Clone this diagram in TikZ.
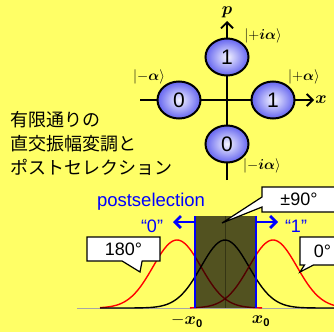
\documentclass[tikz,border=0pt]{standalone}
\usepackage{amsmath,amssymb}
\usepackage{fontspec}
\setmainfont{Liberation Sans}
\newfontfamily\jpfont{Noto Sans CJK JP}
\usepackage{tikz}
\usetikzlibrary{shapes.geometric, shapes.callouts, arrows.meta, positioning}

\definecolor{bgyellow}{RGB}{255,255,102}
\definecolor{ballblue}{RGB}{100,100,240}
\definecolor{ballcenter}{RGB}{245,245,255}

\begin{document}
\begin{tikzpicture}[x=1pt, y=-1pt,
  ball/.style={ellipse, draw=black, line width=2pt, minimum width=43pt, minimum height=37pt,
               inner sep=0, shading=radial, inner color=ballcenter, outer color=ballblue,
               font=\fontsize{21}{21}\selectfont},
  ket/.style={font=\fontsize{15}{15}\selectfont, inner sep=0},
  axis/.style={line width=1.8pt, -{Straight Barb[length=6pt, width=12pt]}},
  bluearr/.style={blue, line width=2.8pt, -{Straight Barb[length=6pt, width=12pt]}},
  callbox/.style={rectangle callout, draw=black, line width=1.2pt, fill=white, inner sep=0,
                  font=\fontsize{18}{18}\selectfont},
  gauss/.style={line width=1.4pt, smooth, samples=90}]
  %% background and frame
  \path[use as bounding box, fill=bgyellow] (0,0) rectangle (334,332);
  \clip (0,0) rectangle (334,332);

  %% Phase space: axes x and p
  \coordinate (xs) at (140,100); \coordinate (xe) at (314,100);
  \coordinate (ps) at (227,180); \coordinate (pe) at (227,21);
  \draw[axis] (xs) -- (xe);
  \draw[axis] (ps) -- (pe);
  \node[font=\fontsize{16}{16}\selectfont] (xlab) at (321,100) {$\boldsymbol{x}$};
  \node[font=\fontsize{16}{16}\selectfont] (plab) at (227,12) {$\boldsymbol{p}$};

  %% the four coherent states
  \foreach \dg/\px/\py/\nm in {1/227/57/top, 1/273/100/right, 0/179/100/left, 0/227/144/bottom}{
    \node[ball] (s\nm) at (\px,\py) {\dg};
  }
  \node[ket] (ktop)    at (263,36)  {$\left|+\boldsymbol{i\alpha}\right\rangle$};
  \node[ket] (kright)  at (304,77)  {$\left|+\boldsymbol{\alpha}\right\rangle$};
  \node[ket] (kleft)   at (149,77)  {$\left|-\boldsymbol{\alpha}\right\rangle$};
  \node[ket] (kbottom) at (262,166) {$\left|-\boldsymbol{i\alpha}\right\rangle$};

  %% Title
  \node[anchor=west, inner sep=0, align=left, font=\jpfont\fontsize{18}{24}\selectfont]
    (title) at (10,143) {有限通りの\\直交振幅変調と\\ポストセレクション};

  %% Measured distributions
  \draw[gray!70, line width=0.8pt] (77,308) -- (334,308);
  \draw[gauss, red]   plot[domain=100:262] (\x, {308-68*exp(-0.5*((\x-177)/24)*((\x-177)/24))});
  \draw[gauss, black] plot[domain=100:334] (\x, {308-68*exp(-0.5*((\x-225)/24)*((\x-225)/24))});
  \draw[gauss, red]   plot[domain=190:334] (\x, {308-68*exp(-0.5*((\x-273)/24)*((\x-273)/24))});

  %% rejected window
  \fill[black, opacity=0.68] (195,216) rectangle (256,308);
  \draw[black, opacity=0.35, line width=1pt] (225,216) -- (225,308);
  \coordinate (bl) at (195,216); \coordinate (blb) at (195,308);
  \coordinate (br) at (256,216); \coordinate (brb) at (256,308);
  \draw[blue, line width=2.8pt] (bl) -- (blb);
  \draw[blue, line width=2.8pt] (br) -- (brb);
  \coordinate (al) at (195,222); \coordinate (alt) at (173,222);
  \coordinate (ar) at (256,222); \coordinate (art) at (278,222);
  \draw[bluearr] (al) -- (alt);
  \draw[bluearr] (ar) -- (art);

  \node[blue, font=\fontsize{18.5}{18.5}\selectfont] (post) at (151,202) {postselection};
  \node[blue, font=\fontsize{18}{18}\selectfont] (zero) at (152,226) {“0”};
  \node[blue, font=\fontsize{18}{18}\selectfont] (one)  at (296,226) {“1”};

  %% callouts
  \node[callbox, minimum width=73pt, minimum height=24pt, callout pointer width=20pt,
        callout absolute pointer={(140,272)}] (c180) at (123.5,249) {180°};
  \node[callbox, minimum width=45pt, minimum height=28pt, callout pointer width=9pt,
        callout absolute pointer={(300,272)}] (c0) at (322.5,251) {0°};
  \node[callbox, minimum width=74pt, minimum height=25pt, callout pointer width=10pt,
        callout absolute pointer={(222,223)}] (c90) at (299,199.5) {±90°};

  %% thresholds
  \node[font=\fontsize{16}{16}\selectfont] (mx0) at (187,321) {$-\boldsymbol{x}_{\textbf{0}}$};
  \node[font=\fontsize{16}{16}\selectfont] (px0) at (261,321) {$\boldsymbol{x}_{\textbf{0}}$};
\end{tikzpicture}
\end{document}
